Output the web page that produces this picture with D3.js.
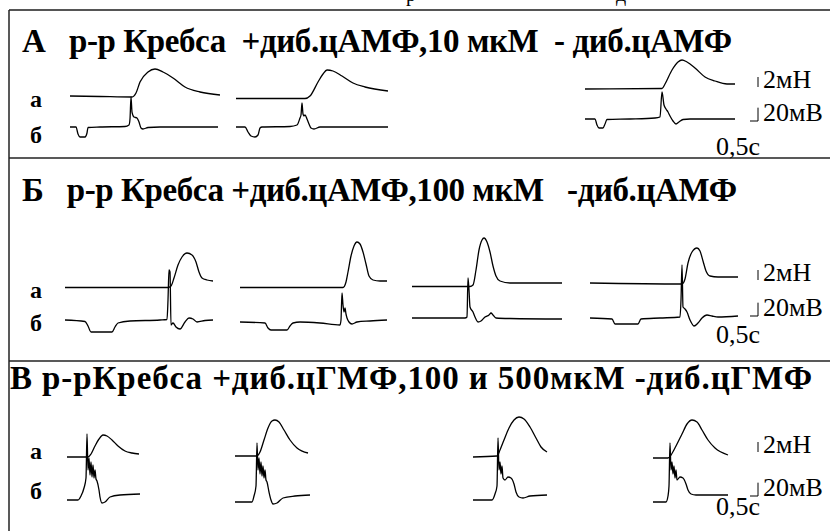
<!DOCTYPE html>
<html>
<head>
<meta charset="utf-8">
<script src="https://cdn.jsdelivr.net/npm/d3@7"></script>
<style>
  body { margin: 0; background: #fff; }
  text { font-family: "Liberation Serif", "Times New Roman", "DejaVu Serif", serif; }
  .trace { fill: none; stroke: #000; stroke-width: 1.3; stroke-linejoin: round; }
  .title { font-weight: 700; font-size: 33px; white-space: pre; }
  .lab { font-weight: 700; font-size: 24px; }
  .cal { font-size: 26px; }
</style>
</head>
<body>
<svg id="fig" width="830" height="531"></svg>
<script>

// time in ms from sweep start, force in mN, voltage in mV (relative to baseline)
var forceA1 = [[0,0],[150,-0.1],[310,-0.2],[330,0.6],[350,2.8],[390,4.8],[425,5.4],[465,4.8],[515,3.6],[575,1.8],[650,0.8],[750,0.2]];
var voltA1 = [[0,0],[30,0],[40,-10.5],[50,-15],[75,-15],[85,-9],[90,-0.75],[150,0],[275,0.75],[295,3],[300,12],[305,45],[310,22.5],[320,15],[335,13.5],[345,7.5],[355,-1.5],[365,-3],[390,-0.75],[450,0],[740,0]];
var forceA2 = [[0,0],[170,0],[345,0],[370,0.5],[410,3.3],[435,4.9],[455,5.7],[485,5.5],[530,4.5],[585,3.1],[645,2.3],[760,1.5]];
var voltA2 = [[0,0],[45,0],[60,-7.5],[75,-13.5],[95,-15],[110,-12],[120,-1.5],[130,0],[270,0.75],[305,3],[320,13.5],[325,18],[330,36],[335,19.5],[340,16.5],[345,18],[355,12],[365,4.5],[375,-1.5],[390,-3],[420,0],[760,0]];
var forceA3 = [[0,0],[385,0.1],[400,1],[435,3.8],[465,5.4],[485,5.8],[510,5.4],[550,4.2],[600,2.4],[650,1.6],[710,1],[750,1]];
var voltA3 = [[0,0],[50,0],[60,-9],[70,-13.5],[90,-13.5],[100,-7.5],[110,-0.75],[225,0],[350,1.5],[375,3],[385,40.5],[395,21],[405,15],[415,10.5],[425,4.5],[440,-3],[455,-7.5],[470,-4.5],[490,-0.75],[525,0],[750,0]];

var forceB1 = [[0,0],[515,0],[530,0.3],[545,1.9],[565,4.5],[585,6.1],[610,6.9],[635,6.5],[655,5.1],[670,3.1],[685,1.9],[710,1.5],[740,1.3]];
var voltB1 = [[0,0],[100,-2.25],[115,-9],[130,-18],[235,-18],[250,-10.5],[265,-4.5],[325,-1.5],[475,0],[510,0.75],[515,30],[520,75],[525,72],[530,-7.5],[540,-4.5],[555,-10.5],[575,-13.5],[600,-3],[620,3],[640,1.5],[660,-3],[700,-0.75],[740,0]];
var forceB2 = [[0,0],[515,0],[530,1.1],[540,3.1],[555,6.3],[570,8.3],[585,9.1],[600,8.7],[615,7.1],[630,4.7],[645,2.3],[665,1.5],[700,1.3],[735,1.3]];
var voltB2 = [[0,0],[125,-1.5],[140,-9],[155,-12],[235,-12],[250,-6],[265,-1.5],[300,0],[400,-1.5],[500,-4.5],[505,3],[510,43.5],[515,25.5],[520,15],[525,21],[530,12],[535,6],[545,0],[560,-3],[585,0],[650,1.5],[735,3]];
var forceB3 = [[0,0],[290,0],[305,0.3],[320,3.3],[335,7.3],[350,9.3],[360,9.7],[375,8.9],[390,6.9],[405,4.1],[420,2.1],[440,1.1],[490,0.7],[750,0.7]];
var voltB3 = [[0,0],[265,0],[275,1.5],[280,60],[285,42],[290,16.5],[305,9],[315,1.5],[330,-6],[345,-4.5],[365,1.5],[385,4.5],[395,7.5],[405,4.5],[420,0],[490,-0.75],[750,-1.5]];
var forceB4 = [[0,0],[460,-0.2],[475,0.8],[490,4],[510,6.2],[535,7],[550,6.4],[565,4.4],[580,2.4],[600,1.4],[640,1.2],[740,1.2]];
var voltB4 = [[0,0],[110,-1.5],[125,-9],[240,-9],[255,-1.5],[350,0],[450,1.5],[455,27],[460,79.5],[465,16.5],[475,13.5],[485,9],[500,-3],[520,-12],[540,-7.5],[560,0],[585,4.5],[610,3],[640,1.5],[740,3]];

var forceC1 = [[0,0],[105,0],[120,0.6],[140,2.2],[160,3.6],[180,4.4],[200,4.2],[225,3.4],[255,2.2],[290,1.2],[325,0.8],[360,0.6]];
var voltC1 = [[0,0],[55,0],[70,6],[85,18],[95,33],[100,99],[105,45],[110,63],[115,37.5],[120,57],[125,34.5],[130,52.5],[135,33],[140,45],[145,31.5],[150,28.5],[160,15],[165,4.5],[175,-4.5],[190,-3],[215,4.5],[265,7.5],[365,9]];
var forceC2 = [[0,0],[110,0],[125,0.8],[145,3.2],[165,5.6],[185,7],[200,7.2],[220,6.8],[245,5.2],[275,3.2],[310,1.6],[365,0.6]];
var voltC2 = [[0,0],[85,0],[95,9],[105,24],[110,88.5],[115,48],[120,66],[125,42],[130,60],[135,39],[140,54],[145,36],[150,48],[155,33],[160,30],[170,15],[180,3],[190,-3],[210,-1.5],[240,6],[300,9],[375,10.5]];
var forceC3 = [[0,0],[120,0.2],[135,1.4],[155,3.4],[180,5.8],[205,7.4],[230,8],[255,7.6],[285,6],[315,3.8],[340,2],[370,1]];
var voltC3 = [[0,0],[95,0],[110,9],[120,21],[125,93],[130,45],[135,57],[140,39],[145,51],[150,33],[160,30],[175,34.5],[190,33],[205,24],[215,12],[230,4.5],[250,3],[285,6],[370,7.5]];
var forceC4 = [[0,0],[75,0],[90,0.6],[115,2.4],[145,4.8],[170,6.8],[195,7.6],[220,7.2],[245,5.6],[275,3.6],[310,2],[375,0.6]];
var voltC4 = [[0,0],[65,0],[75,9],[80,24],[85,88.5],[90,48],[95,60],[100,42],[105,54],[110,36],[115,48],[120,33],[135,37.5],[150,36],[165,27],[175,18],[190,12],[215,10.5],[375,10.5]];

var titles = ["А   р-р Кребса  +диб.цАМФ,10 мкМ  - диб.цАМФ",
              "Б   р-р Кребса +диб.цАМФ,100 мкМ   -диб.цАМФ",
              "В р-рКребса +диб.цГМФ,100 и 500мкМ -диб.цГМФ"];
var rowLabels = ["а", "б"];
var calLabels = ["2мН", "20мВ", "0,5с"];

// sweep placement: x0 = left edge, fy / vy = force and voltage baselines
var sweeps = [
  {f: forceA1, v: voltA1, x0: 70,  fy: 96,    vy: 127},
  {f: forceA2, v: voltA2, x0: 236, fy: 98.5,  vy: 127},
  {f: forceA3, v: voltA3, x0: 585, fy: 89,    vy: 119},
  {f: forceB1, v: voltB1, x0: 65,  fy: 287.5, vy: 320},
  {f: forceB2, v: voltB2, x0: 240, fy: 287.5, vy: 322},
  {f: forceB3, v: voltB3, x0: 412, fy: 286.5, vy: 318},
  {f: forceB4, v: voltB4, x0: 590, fy: 283,   vy: 318},
  {f: forceC1, v: voltC1, x0: 67,  fy: 457,   vy: 500},
  {f: forceC2, v: voltC2, x0: 235, fy: 456,   vy: 502},
  {f: forceC3, v: voltC3, x0: 473, fy: 457,   vy: 500},
  {f: forceC4, v: voltC4, x0: 653, fy: 458,   vy: 502}
];

var panels = [
  {ty: 52,  tx: 22, tw: 710, la: 107, lb: 143, cf: 88,  cv: 121, ct: 155},
  {ty: 201, tx: 22, tw: 715, la: 298, lb: 331, cf: 281, cv: 316, ct: 343},
  {ty: 389, tx: 10, tw: 802, la: 459, lb: 499, cf: 453, cv: 496, ct: 515}
];

var svg = d3.select("#fig");

function xScale(x0) {
  return d3.scaleLinear().domain([0, 1000]).range([x0, x0 + 200]);
}
function yForce(base) {
  return d3.scaleLinear().domain([0, 2]).range([base, base - 10]);
}
function yVolt(base) {
  return d3.scaleLinear().domain([0, 20]).range([base, base - 13.33]);
}

// frame
svg.append("line").attr("x1", 9).attr("x2", 830).attr("y1", 10).attr("y2", 10)
   .attr("stroke", "#555").attr("stroke-width", 2);
svg.append("line").attr("x1", 9).attr("x2", 9).attr("y1", 10).attr("y2", 531)
   .attr("stroke", "#222").attr("stroke-width", 1.5);
[158, 361].forEach(function(y){
  svg.append("line").attr("x1", 9).attr("x2", 830).attr("y1", y).attr("y2", y)
     .attr("stroke", "#222").attr("stroke-width", 1.6);
});

// bits of the caption above, cut off by the top edge
svg.append("text").attr("x", 406).attr("y", 1).attr("font-size", 20).text("р");
svg.append("text").attr("x", 616).attr("y", 1).attr("font-size", 20).text("д");

sweeps.forEach(function(s){
  var x = xScale(s.x0), yf = yForce(s.fy), yv = yVolt(s.vy);
  var lf = d3.line().x(function(d){ return x(d[0]); }).y(function(d){ return yf(d[1]); })
             .curve(d3.curveMonotoneX);
  var lv = d3.line().x(function(d){ return x(d[0]); }).y(function(d){ return yv(d[1]); })
             .curve(d3.curveMonotoneX);
  svg.append("path").attr("class", "trace").attr("d", lf(s.f));
  svg.append("path").attr("class", "trace").attr("d", lv(s.v));
});

panels.forEach(function(p, i){
  svg.append("text").attr("class", "title").attr("x", p.tx).attr("y", p.ty)
     .attr("xml:space", "preserve")
     .attr("textLength", p.tw).attr("lengthAdjust", "spacing")
     .text(titles[i]);

  svg.append("text").attr("class", "lab").attr("x", 30).attr("y", p.la).text(rowLabels[0]);
  svg.append("text").attr("class", "lab").attr("x", 30).attr("y", p.lb).text(rowLabels[1]);

  // calibration marks
  var yf = yForce(p.cf), yv = yVolt(p.cv), x = xScale(750);
  svg.append("line").attr("x1", 758).attr("x2", 758)
     .attr("y1", yf(0) - 1).attr("y2", yf(2) - 1)
     .attr("stroke", "#000").attr("stroke-width", 1);
  svg.append("path").attr("fill", "none").attr("stroke", "#000").attr("stroke-width", 1)
     .attr("d", "M" + x(0) + "," + yv(0) + "H758V" + yv(20));

  svg.append("text").attr("class", "cal").attr("x", 763).attr("y", p.cf).text(calLabels[0]);
  svg.append("text").attr("class", "cal").attr("x", 763).attr("y", p.cv).text(calLabels[1]);
  svg.append("text").attr("class", "cal").attr("x", 716).attr("y", p.ct).text(calLabels[2]);
});

</script>
</body>
</html>
